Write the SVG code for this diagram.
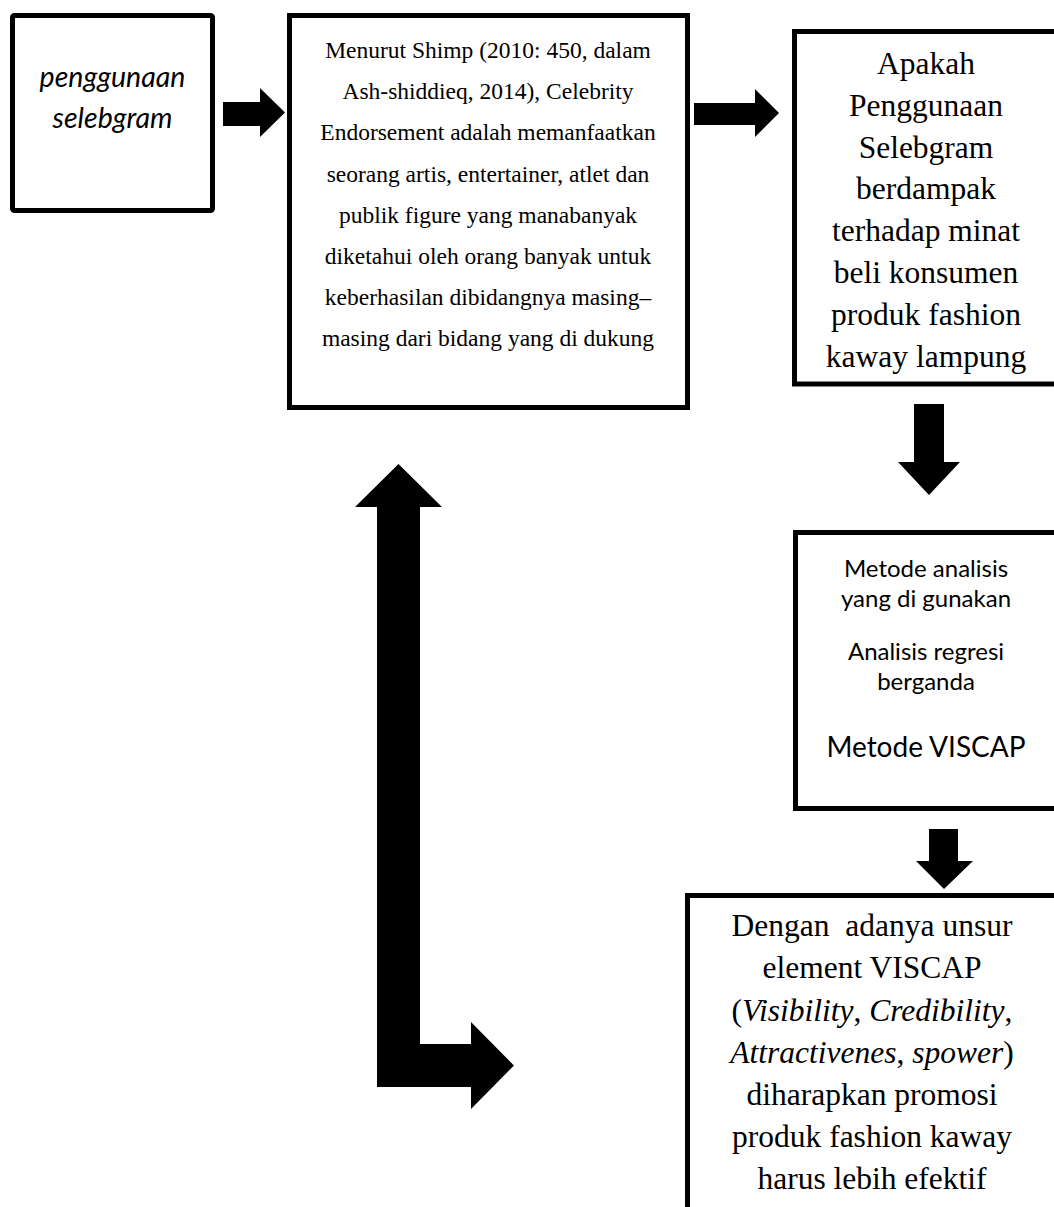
<svg xmlns="http://www.w3.org/2000/svg" width="1054" height="1207" viewBox="0 0 1054 1207">
<style>
.box{fill:#fff;stroke:#000;stroke-width:5}
.arr{fill:#000;stroke:none}
.serif{font-family:"Liberation Serif","Times New Roman",serif;fill:#000;text-anchor:middle}
.sans{font-family:Lato,"Open Sans",sans-serif;fill:#000;text-anchor:middle}
.it{font-style:italic}
</style>
<rect width="1054" height="1207" fill="#fff"/>
<g id="connectors">
<polygon class="arr" points="223,102 260,102 260,88 285,112.5 260,137 260,126 223,126"/>
<polygon class="arr" points="694,103 755,103 755,89 779,113 755,137 755,125 694,125"/>
<polygon class="arr" points="914,404 944,404 944,462 960,462 929,495 898,462 914,462"/>
<polygon class="arr" points="929,829 958,829 958,861 973,861 944,889 916,861 929,861"/>
<polygon class="arr" points="398.5,464 442,507 420,507 420,1044 471,1044 471,1022 514,1065.5 471,1109 471,1087 377,1087 377,507 355,507"/>
</g>
<g id="node-penggunaan">
<rect class="box" x="12.5" y="15.5" width="200" height="195" rx="2"/>
<text class="sans it" font-size="28.5" x="112.5" y="87">penggunaan</text>
<text class="sans it" font-size="28.5" x="112.5" y="128">selebgram</text>
</g>
<g id="node-shimp">
<rect class="box" x="289.5" y="15.5" width="398" height="392"/>
<g class="serif" font-size="23.5">
<text x="488" y="58">Menurut Shimp (2010: 450, dalam</text>
<text x="488" y="99.2">Ash-shiddieq, 2014), Celebrity</text>
<text x="488" y="140.4">Endorsement adalah memanfaatkan</text>
<text x="488" y="181.6">seorang artis, entertainer, atlet dan</text>
<text x="488" y="222.8">publik figure yang manabanyak</text>
<text x="488" y="264">diketahui oleh orang banyak untuk</text>
<text x="488" y="305.2">keberhasilan dibidangnya masing–</text>
<text x="488" y="346.4">masing dari bidang yang di dukung</text>
</g>
</g>
<g id="node-apakah">
<rect class="box" x="794.5" y="31.5" width="275" height="352.5"/>
<g class="serif" font-size="31.5">
<text x="926" y="74">Apakah</text>
<text x="926" y="115.8">Penggunaan</text>
<text x="926" y="157.6">Selebgram</text>
<text x="926" y="199.4">berdampak</text>
<text x="926" y="241.2">terhadap minat</text>
<text x="926" y="283">beli konsumen</text>
<text x="926" y="324.8">produk fashion</text>
<text x="926" y="366.6">kaway lampung</text>
</g>
</g>
<g id="node-metode">
<rect class="box" x="795.5" y="532.5" width="275" height="276"/>
<g class="sans" font-size="24">
<text x="926" y="577">Metode analisis</text>
<text x="926" y="607">yang di gunakan</text>
<text x="926" y="660">Analisis regresi</text>
<text x="926" y="690">berganda</text>
</g>
<text class="sans" font-size="28" x="926" y="757">Metode VISCAP</text>
</g>
<g id="node-dengan">
<rect class="box" x="687.5" y="895.5" width="380" height="330"/>
<g class="serif" font-size="31.5">
<text x="872" y="936" xml:space="preserve">Dengan  adanya unsur</text>
<text x="872" y="978">element VISCAP</text>
<text x="872" y="1021">(<tspan class="it">Visibility</tspan>, <tspan class="it">Credibility</tspan>,</text>
<text x="872" y="1063"><tspan class="it">Attractivenes</tspan>, <tspan class="it">spower</tspan>)</text>
<text x="872" y="1105">diharapkan promosi</text>
<text x="872" y="1147">produk fashion kaway</text>
<text x="872" y="1189">harus lebih efektif</text>
</g>
</g>
</svg>
